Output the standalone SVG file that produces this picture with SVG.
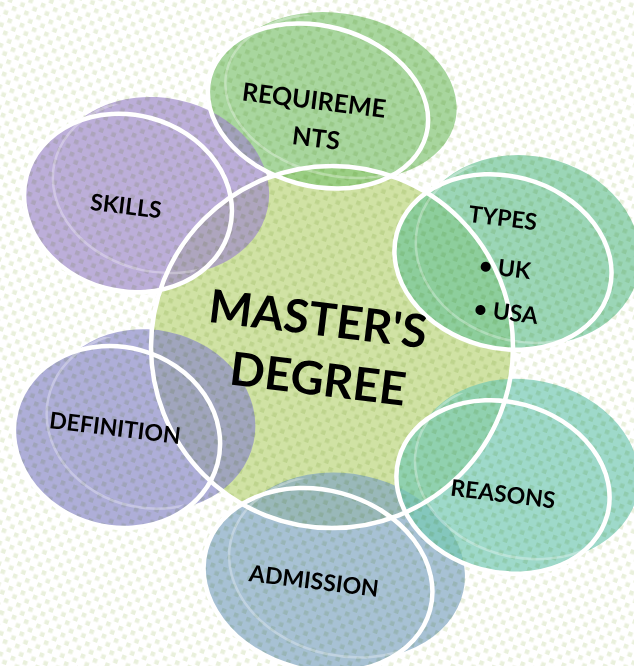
<svg xmlns="http://www.w3.org/2000/svg" width="634" height="666" viewBox="0 0 634 666">
<defs>
<pattern id="dots" width="13" height="13" patternUnits="userSpaceOnUse" patternTransform="rotate(20)">
<rect x="1" y="1" width="4.5" height="4.5" fill="#e9f0dc"/>
<rect x="7.5" y="7.5" width="4.5" height="4.5" fill="#e9f0dc"/>
</pattern>
<clipPath id="cReq"><ellipse cx="318" cy="106" rx="112" ry="80" transform="rotate(15 318 106)"/></clipPath>
<clipPath id="cTyp"><ellipse cx="503" cy="262" rx="110" ry="86" transform="rotate(15 503 262)"/></clipPath>
<clipPath id="cSki"><ellipse cx="128" cy="203" rx="105" ry="88" transform="rotate(15 128 203)"/></clipPath>
<clipPath id="cDef"><ellipse cx="117" cy="437" rx="104" ry="90" transform="rotate(15 117 437)"/></clipPath>
<clipPath id="cAdm"><ellipse cx="318" cy="580" rx="116" ry="90" transform="rotate(15 318 580)"/></clipPath>
<clipPath id="cRea"><ellipse cx="503" cy="487" rx="108" ry="85" transform="rotate(15 503 487)"/></clipPath>
</defs>
<style>
.node{opacity:0.7}
.ring{fill:none;stroke:#ffffff;stroke-width:4.5}
.faint{fill:none;stroke:#ffffff;stroke-width:2.5;opacity:0.3}
.tex{mix-blend-mode:multiply}
.lbl{font-family:Lato,"Open Sans","Liberation Sans",sans-serif;font-weight:bold;fill:#000;text-anchor:middle}
.big{font-size:46px}
.sm{font-size:23px}
</style>
<rect width="634" height="666" fill="#ffffff"/>

<g id="center">
<circle cx="332" cy="347" r="181" fill="#d0e2a4"/>
</g>

<g id="requirements" class="node" fill="#84c676">
<ellipse cx="340" cy="96" rx="118" ry="82" transform="rotate(12 340 96)"/>
<ellipse cx="318" cy="106" rx="112" ry="80" transform="rotate(15 318 106)"/>
</g>
<g id="types" class="node" fill="#72c69a">
<ellipse cx="527" cy="250" rx="114" ry="94" transform="rotate(12 527 250)"/>
<ellipse cx="503" cy="262" rx="110" ry="86" transform="rotate(15 503 262)"/>
</g>
<g id="skills" class="node" fill="#a08cca">
<ellipse cx="160" cy="186" rx="110" ry="88" transform="rotate(12 160 186)"/>
<ellipse cx="128" cy="203" rx="105" ry="88" transform="rotate(15 128 203)"/>
</g>
<g id="definition" class="node" fill="#8c8cc8">
<ellipse cx="150" cy="420" rx="106" ry="90" transform="rotate(12 150 420)"/>
<ellipse cx="117" cy="437" rx="104" ry="90" transform="rotate(15 117 437)"/>
</g>
<g id="admission" class="node" fill="#82a7c2">
<ellipse cx="346" cy="566" rx="120" ry="92" transform="rotate(12 346 566)"/>
<ellipse cx="318" cy="580" rx="116" ry="90" transform="rotate(15 318 580)"/>
</g>
<g id="reasons" class="node" fill="#76cab4">
<ellipse cx="526" cy="470" rx="114" ry="90" transform="rotate(12 526 470)"/>
<ellipse cx="503" cy="487" rx="108" ry="85" transform="rotate(15 503 487)"/>
</g>

<rect class="tex" width="634" height="666" fill="url(#dots)"/>

<g id="rings">
<ellipse class="faint" clip-path="url(#cReq)" cx="340" cy="96" rx="116" ry="80" transform="rotate(12 340 96)"/>
<ellipse class="faint" clip-path="url(#cTyp)" cx="527" cy="250" rx="112" ry="92" transform="rotate(12 527 250)"/>
<ellipse class="faint" clip-path="url(#cSki)" cx="160" cy="186" rx="108" ry="86" transform="rotate(12 160 186)"/>
<ellipse class="faint" clip-path="url(#cDef)" cx="150" cy="420" rx="104" ry="88" transform="rotate(12 150 420)"/>
<ellipse class="faint" clip-path="url(#cAdm)" cx="346" cy="566" rx="118" ry="90" transform="rotate(12 346 566)"/>
<ellipse class="faint" clip-path="url(#cRea)" cx="526" cy="470" rx="112" ry="88" transform="rotate(12 526 470)"/>
<circle class="ring" cx="332" cy="347" r="181"/>
<ellipse class="ring" cx="318" cy="106" rx="112" ry="80" transform="rotate(15 318 106)"/>
<ellipse class="ring" cx="503" cy="262" rx="110" ry="86" transform="rotate(15 503 262)"/>
<ellipse class="ring" cx="128" cy="203" rx="105" ry="88" transform="rotate(15 128 203)"/>
<ellipse class="ring" cx="117" cy="437" rx="104" ry="90" transform="rotate(15 117 437)"/>
<ellipse class="ring" cx="318" cy="580" rx="116" ry="90" transform="rotate(15 318 580)"/>
<ellipse class="ring" cx="503" cy="487" rx="108" ry="85" transform="rotate(15 503 487)"/>
</g>

<g id="labels">
<text class="lbl big" transform="translate(316 335) rotate(7)">MASTER'S</text>
<text class="lbl big" transform="translate(316 395) rotate(7)">DEGREE</text>
<text class="lbl" font-size="25" transform="translate(313 109) rotate(7)">REQUIREME</text>
<text class="lbl" font-size="25" transform="translate(315 147) rotate(7)">NTS</text>
<text class="lbl sm" transform="translate(502 226) rotate(7)">TYPES</text>
<text class="lbl sm" transform="translate(504 276) rotate(7)">• UK</text>
<text class="lbl sm" transform="translate(505 320) rotate(7)">• USA</text>
<text class="lbl sm" transform="translate(125 214) rotate(7)">SKILLS</text>
<text class="lbl sm" transform="translate(114 436) rotate(7)">DEFINITION</text>
<text class="lbl sm" transform="translate(313 589) rotate(7)">ADMISSION</text>
<text class="lbl sm" transform="translate(502 502) rotate(7)">REASONS</text>
</g>
</svg>
